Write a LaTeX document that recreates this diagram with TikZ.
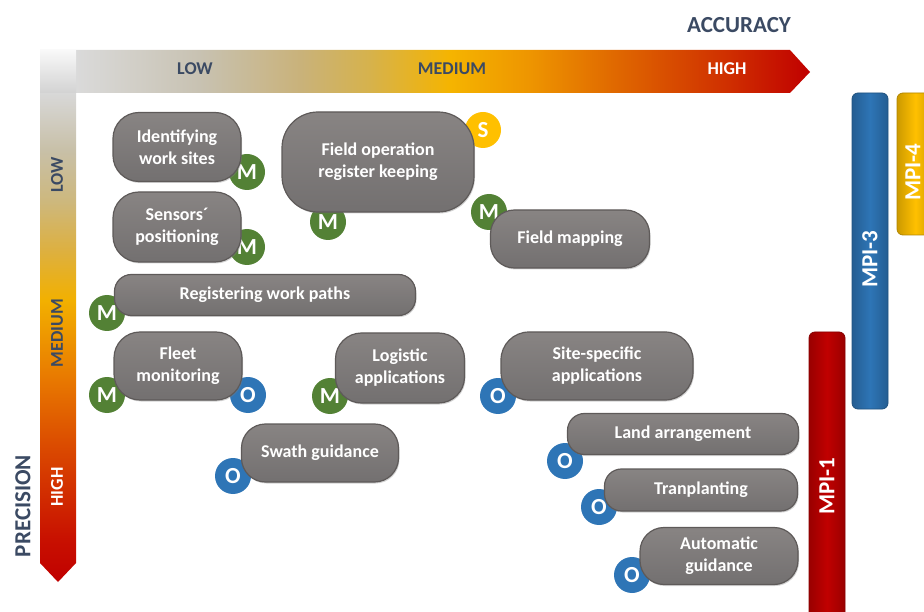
\documentclass[tikz,border=0pt]{standalone}
\usepackage{fontspec}
\setmainfont{Carlito}
\usetikzlibrary{shadows}

\definecolor{axisblue}{HTML}{3B4A63}
\definecolor{tasktop}{HTML}{888483}
\definecolor{taskbot}{HTML}{737070}
\definecolor{taskedge}{HTML}{5E5A59}
\definecolor{mgreen}{HTML}{538135}
\definecolor{oblue}{HTML}{2E75B6}
\definecolor{syellow}{HTML}{FFC000}
\definecolor{mpired}{HTML}{C00000}

% colour stops of the two axes
\definecolor{axA}{HTML}{DADADA}
\definecolor{axB}{HTML}{C8C2B2}
\definecolor{axC}{HTML}{C9B27A}
\definecolor{axD}{HTML}{D6B24C}
\definecolor{axE}{HTML}{F5B400}
\definecolor{axF}{HTML}{EE9500}
\definecolor{axG}{HTML}{E27000}
\definecolor{axH}{HTML}{CF2E00}
\definecolor{axI}{HTML}{C00000}
\definecolor{axJ}{HTML}{C81000}
\definecolor{axK}{HTML}{DA4800}
\definecolor{axL}{HTML}{E87800}
\definecolor{axM}{HTML}{F2B000}
\definecolor{axN}{HTML}{DDB040}
\definecolor{axO}{HTML}{CDB87E}
\definecolor{axP}{HTML}{C8C0A8}
\definecolor{axQ}{HTML}{D8D8D8}

\pgfdeclarehorizontalshading{accuracyshade}{100bp}{color(0bp)=(axA); color(25bp)=(axA);
  color(33.4bp)=(axB); color(40.3bp)=(axC); color(45bp)=(axD); color(50.5bp)=(axE);
  color(55.9bp)=(axF); color(60.7bp)=(axG); color(69.5bp)=(axH); color(75bp)=(axI); color(100bp)=(axI)}
\pgfdeclareverticalshading{precisionshade}{100bp}{color(0bp)=(axI); color(25bp)=(axI);
  color(29.3bp)=(axJ); color(38.5bp)=(axK); color(45.7bp)=(axL); color(53.8bp)=(axM);
  color(58.9bp)=(axN); color(64bp)=(axO); color(69.2bp)=(axP); color(75bp)=(axQ); color(100bp)=(axQ)}

\tikzset{
  task/.style={draw=taskedge, line width=1.2pt, top color=tasktop, bottom color=taskbot,
    text=white, font=\fontsize{18}{22}\selectfont\bfseries, align=center, inner sep=0pt,
    rounded corners=#1, drop shadow={opacity=0.35, shadow xshift=1pt, shadow yshift=-1.5pt}},
  task/.default=24pt,
  badge/.style={circle, minimum size=36pt, inner sep=0pt, text=white,
    font=\fontsize{23}{23}\selectfont\bfseries},
  mbadge/.style={badge, fill=mgreen},
  obadge/.style={badge, fill=oblue},
  sbadge/.style={badge, fill=syellow},
  axislabel/.style={text=axisblue, font=\fontsize{18}{18}\selectfont\bfseries},
  axistitle/.style={text=axisblue, font=\fontsize{23}{23}\selectfont\bfseries},
  mpibar/.style={rounded corners=6pt, draw=#1!70!black, line width=0.8pt, left color=#1!80!black, right color=#1!80!black, middle color=#1},
  mpilabel/.style={text=white, rotate=90, inner sep=0pt, font=\fontsize{23}{23}\selectfont\bfseries}
}

\begin{document}
\begin{tikzpicture}[x=1pt,y=-1pt]

            \useasboundingbox (0,0) rectangle (924,612);

            % the two axes

            \shade[shading=accuracyshade] (76,50) -- (790,50) -- (810,72) -- (790,93) -- (76,93) -- cycle;

            \shade[shading=precisionshade] (40,93) -- (76,93) -- (76,563) -- (58,582) -- (40,563) -- cycle;

            \shade[top color=gray!5, bottom color=gray!35] (40,50) rectangle (76,93);

            \node[axistitle]              (accuracy)  at (739,25)  {ACCURACY};

            \node[axistitle, rotate=90]   (precision) at (23,506)  {PRECISION};

            \node[axislabel]              (acclow)    at (195,69)  {LOW};

            \node[axislabel]              (accmed)    at (452,69)  {MEDIUM};

            \node[axislabel, text=white]  (acchigh)   at (727,69)  {HIGH};

            \node[axislabel, rotate=90]   (prelow)    at (57,175)  {LOW};

            \node[axislabel, rotate=90]   (premed)    at (57,333)  {MEDIUM};

            \node[axislabel, rotate=90, text=white] (prehigh) at (57,487) {HIGH};

            % MPI bars

            \path[mpibar=oblue]   (852,93)  rectangle (888,409);

            \path[mpibar=syellow] (897,93)  rectangle (934,235);

            \path[mpibar=mpired]  (809,332) rectangle (845,622);

            \node[mpilabel] (mpi3) at (870,259) {MPI-3};

            \node[mpilabel] (mpi4) at (913,172) {MPI-4};

            \node[mpilabel] (mpi1) at (827,486) {MPI-1};

            % badges

            \node[mbadge] (mident)  at (247,172) {M};

            \node[sbadge] (sfield)  at (483,130) {S};

            \node[mbadge] (mfield)  at (328,222) {M};

            \node[mbadge] (msens)   at (247,247) {M};

            \node[mbadge] (mmap)    at (489,212) {M};

            \node[mbadge] (mpaths)  at (107,313) {M};

            \node[mbadge] (mfleet)  at (107,395) {M};

            \node[obadge] (ofleet)  at (248,395) {O};

            \node[mbadge] (mlogi)   at (330,396) {M};

            \node[obadge] (oswath)  at (233,476) {O};

            \node[obadge] (osite)   at (498,396) {O};

            \node[obadge] (oland)   at (565,461) {O};

            \node[obadge] (otrans)  at (599,507) {O};

            \node[obadge] (oauto)   at (632,575) {O};

            % applications

            \node[task=26pt, minimum width=128pt, minimum height=69pt]  (ident)  at (177,147) {Identifying\\work sites};

            \node[task=36pt, minimum width=192pt, minimum height=100pt] (field)  at (378,162) {Field operation\\register keeping};

            \node[task=26pt, minimum width=128pt, minimum height=70pt]  (sens)   at (177,227) {Sensors´\\positioning};

            \node[task=17pt, minimum width=301pt, minimum height=41pt]  (paths)  at (265,295) {Registering work paths};

            \node[task=24pt, minimum width=159pt, minimum height=58pt]  (map)    at (570,239) {Field mapping};

            \node[task=26pt, minimum width=128pt, minimum height=68pt]  (fleet)  at (178,366) {Fleet\\monitoring};

            \node[task=26pt, minimum width=129pt, minimum height=70pt]  (logi)   at (400,368) {Logistic\\applications};

            \node[task=24pt, minimum width=157pt, minimum height=58pt]  (swath)  at (320,453) {Swath guidance};

            \node[task=28pt, minimum width=192pt, minimum height=68pt]  (site)   at (597,366) {Site-specific\\applications};

            \node[task=17pt, minimum width=231pt, minimum height=41pt]  (land)   at (683,434) {Land arrangement};

            \node[task=17pt, minimum width=193pt, minimum height=42pt]  (trans)  at (701,490) {Tranplanting};

            \node[task=24pt, minimum width=158pt, minimum height=57pt]  (auto)   at (719,556) {Automatic\\guidance};

\end{tikzpicture}
\end{document}
